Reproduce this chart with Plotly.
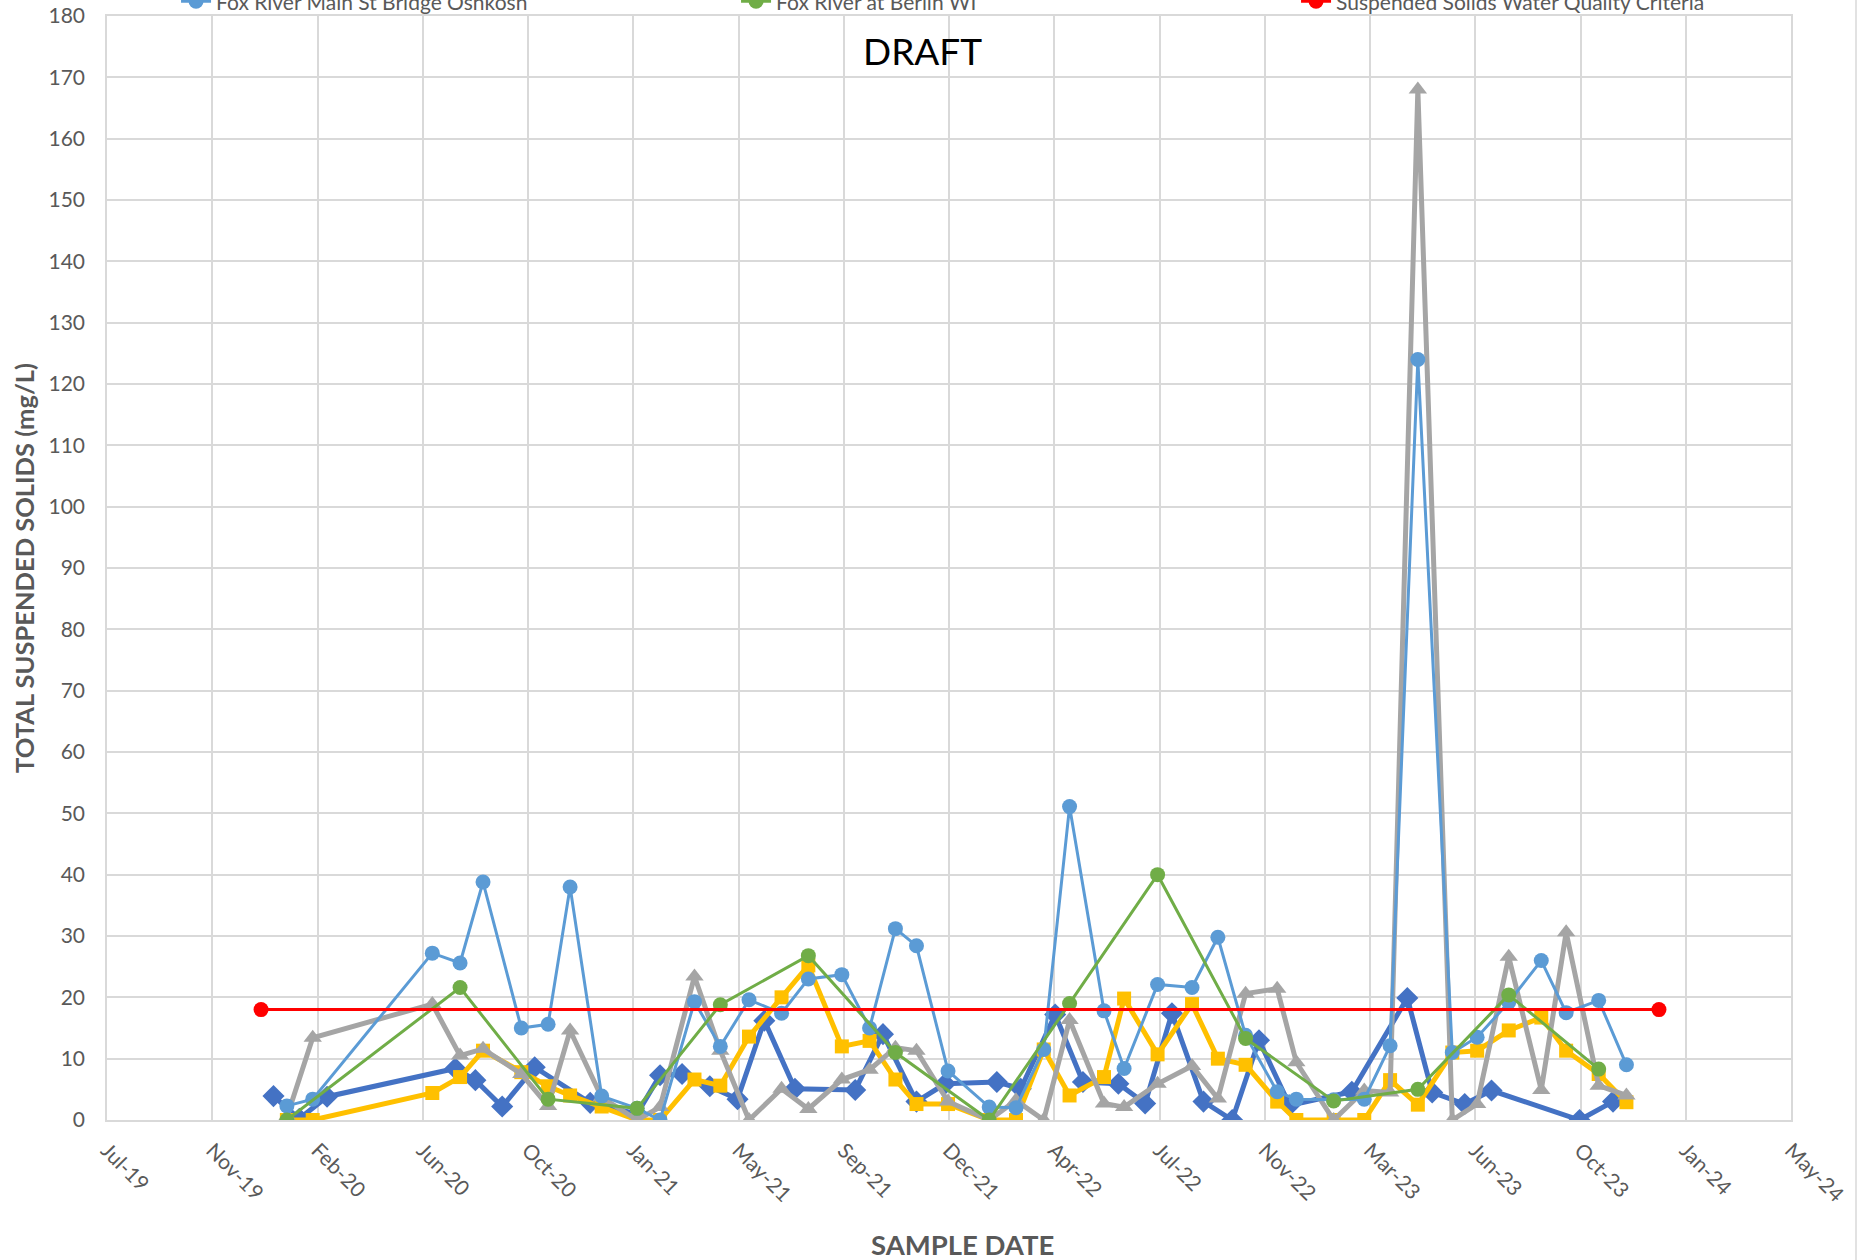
import plotly.graph_objects as go

# ---------------- axis ticks ----------------
x_tick_dates = ["2019-07-24", "2019-11-11", "2020-02-29", "2020-06-18", "2020-10-06",
                "2021-01-24", "2021-05-14", "2021-09-01", "2021-12-20", "2022-04-09",
                "2022-07-28", "2022-11-15", "2023-03-05", "2023-06-23", "2023-10-11",
                "2024-01-29", "2024-05-18"]
x_tick_labels = ["Jul-19", "Nov-19", "Feb-20", "Jun-20", "Oct-20", "Jan-21", "May-21",
                 "Sep-21", "Dec-21", "Apr-22", "Jul-22", "Nov-22", "Mar-23", "Jun-23",
                 "Oct-23", "Jan-24", "May-24"]
y_tick_vals = [0, 10, 20, 30, 40, 50, 60, 70, 80, 90, 100, 110, 120, 130, 140, 150, 160, 170, 180]

# ---------------- series ----------------
site1_dates = ["2020-01-14", "2020-02-10", "2020-03-10", "2020-07-22", "2020-08-12", "2020-09-09",
               "2020-10-13", "2020-12-10", "2021-01-28", "2021-02-21", "2021-03-16", "2021-04-14",
               "2021-05-13", "2021-06-10", "2021-07-12", "2021-09-13", "2021-10-12", "2021-11-16",
               "2021-12-16", "2022-02-08", "2022-03-05", "2022-04-10", "2022-05-09", "2022-06-15",
               "2022-07-13", "2022-08-10", "2022-09-12", "2022-10-12", "2022-11-09", "2022-12-11",
               "2023-02-14", "2023-04-13", "2023-05-09", "2023-06-12", "2023-07-10", "2023-10-10",
               "2023-11-14"]
site1_values = [3.9, 0.2, 3.8, 8.4, 6.5, 2.2,
                8.6, 2.8, 1.0, 7.3, 7.5, 5.5,
                3.4, 16.2, 5.1, 4.9, 14.0, 3.0,
                5.9, 6.2, 5.1, 17.2, 6.2, 5.9,
                2.7, 17.4, 3.0, 0.0, 13.0, 2.4,
                4.6, 19.9, 4.5, 2.6, 4.8, 0.0,
                3.0]

monthly_dates = ["2020-01-28", "2020-02-24", "2020-06-28", "2020-07-27", "2020-08-20", "2020-09-29",
                 "2020-10-27", "2020-11-19", "2020-12-22", "2021-01-28", "2021-02-21", "2021-03-29",
                 "2021-04-25", "2021-05-25", "2021-06-28", "2021-07-26", "2021-08-30", "2021-09-28",
                 "2021-10-25", "2021-11-16", "2021-12-19", "2022-01-31", "2022-02-28", "2022-03-29",
                 "2022-04-25", "2022-05-31", "2022-06-21", "2022-07-26", "2022-08-31", "2022-09-27",
                 "2022-10-26", "2022-11-28", "2022-12-18", "2023-01-26", "2023-02-27", "2023-03-26",
                 "2023-04-24", "2023-05-30", "2023-06-25", "2023-07-28", "2023-08-31", "2023-09-26",
                 "2023-10-30", "2023-11-28"]

site2_values = [0.0, 0.0, 4.4, 7.0, 11.3, 7.8,
                5.5, 4.0, 2.2, 0.0, 0.0, 6.6,
                5.6, 13.6, 20.0, 25.2, 12.0, 12.9,
                6.6, 2.6, 2.6, 0.0, 0.0, 11.5,
                4.0, 7.0, 19.8, 10.7, 18.9, 10.0,
                9.0, 3.0, 0.0, 0.0, 0.0, 6.5,
                2.5, 11.0, 11.3, 14.6, 16.7, 11.3,
                7.5, 2.9]

site3_values = [0.5, 13.4, 18.9, 10.5, 11.6, 7.5,
                2.3, 14.6, 3.7, 0.0, 2.1, 23.4,
                11.3, 0.0, 5.1, 1.8, 6.6, 8.2,
                11.8, 11.3, 3.0, 0.0, 3.2, 0.0,
                16.3, 2.7, 2.1, 5.9, 8.8, 3.5,
                20.6, 21.4, 9.4, 0.0, 4.8, 4.5,
                168.0, 0.0, 2.6, 26.6, 4.9, 30.6,
                5.6, 4.0]

oshkosh_values = [2.3, 3.4, 27.2, 25.6, 38.8, 15.0,
                  15.6, 38.0, 3.9, 1.9, 0.0, 19.3,
                  12.0, 19.6, 17.4, 23.0, 23.7, 15.0,
                  31.2, 28.4, 8.0, 2.1, 2.0, 11.5,
                  51.1, 17.8, 8.4, 22.1, 21.6, 29.8,
                  13.8, 4.6, 3.4, 3.3, 3.4, 12.1,
                  124.0, 11.0, 13.5, 19.2, 26.0, 17.5,
                  19.5, 9.0]

berlin_dates = ["2020-01-28", "2020-07-27", "2020-10-27", "2021-01-28", "2021-04-25",
                "2021-07-26", "2021-10-25", "2022-01-31", "2022-04-25", "2022-07-26",
                "2022-10-26", "2023-01-26", "2023-04-24", "2023-07-28", "2023-10-30"]
berlin_values = [0.0, 21.6, 3.4, 1.9, 18.8,
                 26.8, 11.0, 0.0, 19.0, 40.0,
                 13.3, 3.1, 5.0, 20.4, 8.3]

criteria_dates = ["2020-01-01", "2024-01-01"]
criteria_values = [18, 18]

FONT = "Lato, 'Open Sans', sans-serif"
GREY_TEXT = "#595959"
GRID = "#D9D9D9"

fig = go.Figure()

fig.add_trace(go.Scatter(
    x=site1_dates, y=site1_values, mode="lines+markers", name="Site 1",
    line=dict(color="#4472C4", width=5),
    marker=dict(symbol="diamond", size=17, color="#4472C4"),
    showlegend=False))
fig.add_trace(go.Scatter(
    x=monthly_dates, y=site2_values, mode="lines+markers", name="Site 2",
    line=dict(color="#FFC000", width=5),
    marker=dict(symbol="square", size=14, color="#FFC000"),
    showlegend=False))
fig.add_trace(go.Scatter(
    x=monthly_dates, y=site3_values, mode="lines+markers", name="Site 3",
    line=dict(color="#A5A5A5", width=5),
    marker=dict(symbol="triangle-up", size=16, color="#A5A5A5"),
    showlegend=False))
fig.add_trace(go.Scatter(
    x=monthly_dates, y=oshkosh_values, mode="lines+markers",
    name="Fox River Main St Bridge Oshkosh",
    line=dict(color="#5B9BD5", width=3),
    marker=dict(symbol="circle", size=15, color="#5B9BD5")))
fig.add_trace(go.Scatter(
    x=berlin_dates, y=berlin_values, mode="lines+markers",
    name="Fox River at Berlin WI",
    line=dict(color="#70AD47", width=3),
    marker=dict(symbol="circle", size=15, color="#70AD47")))
fig.add_trace(go.Scatter(
    x=criteria_dates, y=criteria_values, mode="lines+markers",
    name="Suspended Solids Water Quality Criteria",
    line=dict(color="#FF0000", width=3),
    marker=dict(symbol="circle", size=15, color="#FF0000")))

fig.update_layout(
    width=1870, height=1260,
    margin=dict(l=107, r=79, t=16, b=140, autoexpand=False),
    paper_bgcolor="white", plot_bgcolor="white",
    font=dict(family=FONT, color=GREY_TEXT, size=21),
    showlegend=True,
    legend=dict(orientation="h", x=0.041, xanchor="left", y=1.013, yanchor="middle",
                entrywidth=515, font=dict(family=FONT, size=21, color=GREY_TEXT),
                bgcolor="rgba(0,0,0,0)", traceorder="normal"),
    xaxis=dict(type="date", range=[x_tick_dates[0], x_tick_dates[-1]],
               tickmode="array", tickvals=x_tick_dates, ticktext=x_tick_labels,
               tickangle=45, ticks="", ticklabelstandoff=8,
               tickfont=dict(family=FONT, size=21, color=GREY_TEXT),
               showgrid=True, gridcolor=GRID, gridwidth=1.5,
               showline=True, linecolor=GRID, linewidth=2, mirror=True,
               zeroline=False, automargin=False),
    yaxis=dict(range=[0, 180], tickmode="array", tickvals=y_tick_vals,
               ticks="", ticklabelstandoff=16,
               tickfont=dict(family=FONT, size=21, color=GREY_TEXT),
               showgrid=True, gridcolor=GRID, gridwidth=1.5,
               showline=True, linecolor=GRID, linewidth=1.5, mirror=True,
               zeroline=False, automargin=False),
    annotations=[
        dict(text="DRAFT", x=0.484, y=0.969, xref="paper", yref="paper",
             xanchor="center", yanchor="middle", showarrow=False,
             font=dict(family=FONT, size=37, color="black")),
        dict(text="<b>SAMPLE DATE</b>", x=0.508, y=-0.113, xref="paper", yref="paper",
             xanchor="center", yanchor="middle", showarrow=False,
             font=dict(family=FONT, size=27.5, color=GREY_TEXT)),
        dict(text="<b>TOTAL SUSPENDED SOLIDS (mg/L)</b>", x=-0.0493, y=0.5,
             xref="paper", yref="paper", textangle=-90,
             xanchor="center", yanchor="middle", showarrow=False,
             font=dict(family=FONT, size=25.5, color=GREY_TEXT)),
    ],
    shapes=[
        dict(type="line", xref="paper", yref="paper", x0=1.0386, x1=1.0386,
             y0=-0.2, y1=1.05, line=dict(color=GRID, width=1.5)),
    ],
)

fig.write_html("out.html", config={"displayModeBar": False},
               post_script="document.body.style.margin='0';document.body.style.overflow='hidden';")
